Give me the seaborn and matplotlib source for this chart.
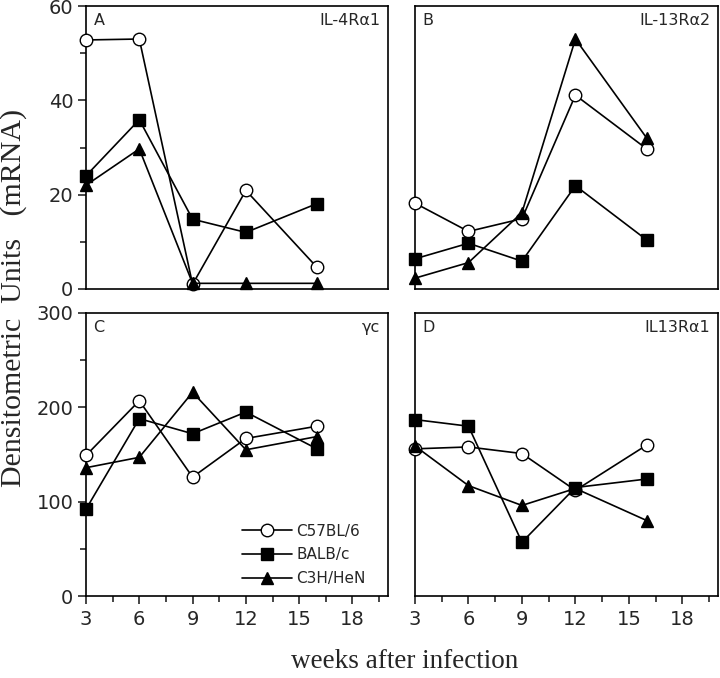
import matplotlib
matplotlib.use("Agg")
import matplotlib.pyplot as plt
import seaborn as sns
import pandas as pd
from matplotlib.ticker import MultipleLocator

sns.set_style("ticks")
plt.rcParams['font.family'] = ['DejaVu Sans']

weeks = [3, 6, 9, 12, 16]
strains = ["C57BL/6", "BALB/c", "C3H/HeN"]

# Panel A: IL-4Ra1
a_c57 = [52.8, 53.0, 1.0, 20.9, 4.6]
a_balb = [24.0, 35.9, 14.8, 12.0, 18.1]
a_c3h = [22.0, 29.7, 1.2, 1.2, 1.2]
# Panel B: IL-13Ra2
b_c57 = [18.2, 12.2, 14.9, 41.1, 29.7]
b_balb = [6.4, 9.7, 5.9, 21.9, 10.4]
b_c3h = [2.3, 5.6, 16.2, 53.0, 32.0]
# Panel C: gamma c
c_c57 = [149, 207, 126, 167, 180]
c_balb = [92, 188, 172, 195, 156]
c_c3h = [136, 147, 216, 155, 169]
# Panel D: IL13Ra1
d_c57 = [156, 158, 151, 112, 160]
d_balb = [187, 180, 57, 115, 124]
d_c3h = [159, 117, 96, 114, 80]

panels = [
    ("A", "IL-4R\u03b11", [a_c57, a_balb, a_c3h]),
    ("B", "IL-13R\u03b12", [b_c57, b_balb, b_c3h]),
    ("C", "\u03b3c", [c_c57, c_balb, c_c3h]),
    ("D", "IL13R\u03b11", [d_c57, d_balb, d_c3h]),
]

markers = {"C57BL/6": "o", "BALB/c": "s", "C3H/HeN": "^"}
mfc = {"C57BL/6": "white", "BALB/c": "black", "C3H/HeN": "black"}
msz = {"C57BL/6": 9, "BALB/c": 8.5, "C3H/HeN": 8.5}

fig = plt.figure(figsize=(7.2, 6.78), dpi=100)
W, H = 720, 678
boxes = {
    "A": (86, 388, 6, 289),
    "B": (415, 718, 6, 289),
    "C": (86, 388, 313, 596),
    "D": (415, 718, 313, 596),
}

for letter, title, series in panels:
    x0, x1, y0, y1 = boxes[letter]
    ax = fig.add_axes([x0 / W, 1 - y1 / H, (x1 - x0) / W, (y1 - y0) / H])
    rows = []
    for s, vals in zip(strains, series):
        for w, v in zip(weeks, vals):
            rows.append({"weeks": w, "value": v, "strain": s})
    df = pd.DataFrame(rows)
    for s in strains:
        sub = df[df["strain"] == s]
        sns.lineplot(data=sub, x="weeks", y="value", ax=ax, color="black",
                     marker=markers[s], markersize=msz[s], markerfacecolor=mfc[s],
                     markeredgecolor="black", markeredgewidth=1.0, linewidth=1.2,
                     label=s, clip_on=False, zorder=3)
    ax.set_xlim(3, 20)
    top = letter in ("A", "B")
    ax.set_ylim(0, 60 if top else 300)
    for sp in ax.spines.values():
        sp.set_visible(True)
        sp.set_linewidth(1.2)
        sp.set_color("black")
    ax.set_xlabel("")
    ax.set_ylabel("")
    ax.xaxis.set_major_locator(MultipleLocator(3))
    ax.xaxis.set_minor_locator(MultipleLocator(1.5))
    if top:
        ax.yaxis.set_major_locator(MultipleLocator(20))
        ax.yaxis.set_minor_locator(MultipleLocator(10))
        ax.tick_params(axis="x", which="both", bottom=False, labelbottom=False)
    else:
        ax.yaxis.set_major_locator(MultipleLocator(100))
        ax.yaxis.set_minor_locator(MultipleLocator(50))
        ax.tick_params(axis="x", which="major", direction="out", length=6, width=1.2,
                       labelsize=14, pad=4)
        ax.tick_params(axis="x", which="minor", direction="out", length=4, width=1.2)
    if letter in ("A", "C"):
        ax.tick_params(axis="y", which="major", direction="out", length=6, width=1.2,
                       labelsize=14, pad=3)
        ax.tick_params(axis="y", which="minor", direction="out", length=4, width=1.2)
    else:
        ax.tick_params(axis="y", which="both", left=False, labelleft=False)
    ax.text(0.025, 0.975, letter, transform=ax.transAxes, ha="left", va="top",
            fontsize=11.5)
    ax.text(0.975, 0.975, title, transform=ax.transAxes, ha="right", va="top",
            fontsize=11.5)
    if letter == "C":
        ax.legend(loc="center left", bbox_to_anchor=(0.49, 0.145), frameon=False,
                  fontsize=11, handlelength=3.3, labelspacing=0.58,
                  handletextpad=0.3, borderpad=0)
    else:
        lg = ax.get_legend()
        if lg is not None:
            lg.remove()

fig.text(0.019, 1 - 298 / H, "Densitometric  Units   (mRNA)", rotation=90,
         ha="center", va="center", fontsize=21.5, family="Liberation Serif")
fig.text(405 / W, 1 - 661 / H, "weeks after infection", ha="center", va="center",
         fontsize=19.5, family="Liberation Serif")

fig.savefig("out.png", dpi=100)
